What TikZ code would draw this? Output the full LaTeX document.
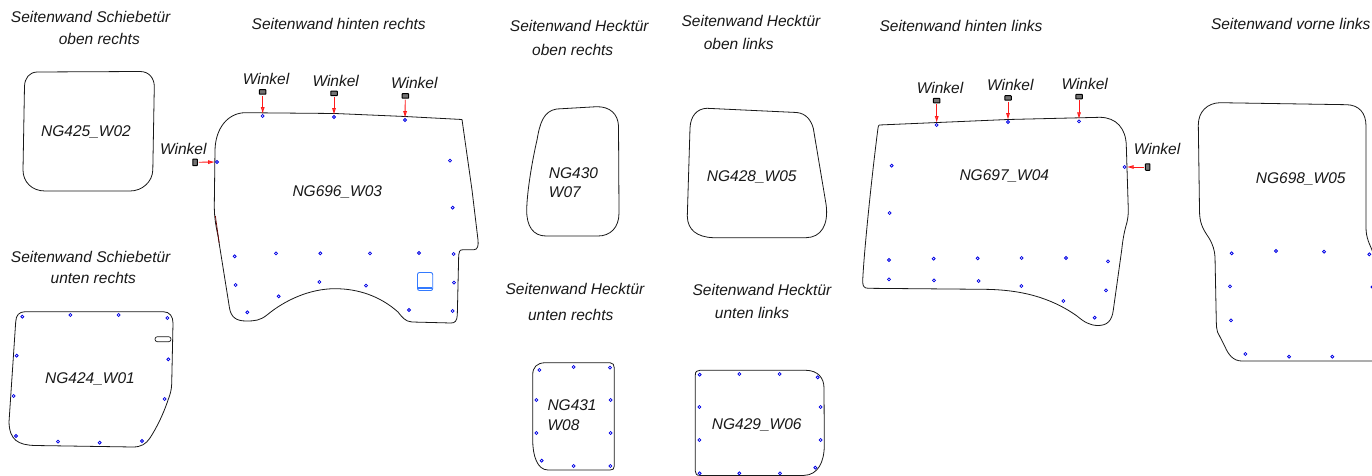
\documentclass[tikz,border=0pt]{standalone}
\usepackage{fontspec}
\setmainfont{Liberation Sans}
\usetikzlibrary{arrows.meta}
\tikzset{
  panel/.style={draw=black!90,line width=0.8pt,line join=round},
  lbl/.style={inner sep=0pt,font=\fontsize{15.5}{18}\selectfont\itshape,text=black!90},
  lblleft/.style={lbl,anchor=west},
  hole/.style={circle,draw=blue!90!black,line width=0.75pt,minimum size=3pt,inner sep=0pt},
  bracket/.style={draw=black,line width=1pt,fill=black!55,minimum width=6.5pt,minimum height=4.5pt,inner sep=0pt,rounded corners=0.5pt},
  bracketv/.style={bracket,minimum width=4.5pt,minimum height=6.5pt},
  pointer/.style={draw=red!90,line width=0.9pt,-{Latex[length=7pt,width=4pt,fill=red!55]},shorten <=1pt,shorten >=0pt},
  slot/.style={draw=black!90,line width=0.7pt,rounded corners=2.4pt},
  tab/.style={draw=blue!65!cyan!80,line width=0.9pt,rounded corners=2pt}
}
\begin{document}
\begin{tikzpicture}[x=1pt,y=-1pt]
\useasboundingbox (0,0) rectangle (1372,476);
\fill[white] (0,0) rectangle (1372,476);
\clip (0,0) rectangle (1372,476);

% ---------- outlines
\draw[panel] (37,72) -- (140,71.5) .. controls (149,71.5) and (154,78) .. (154.3,86) -- (152.8,170)
  .. controls (152.5,182) and (142,191) .. (130,191) -- (45,191) .. controls (32,191) and (23,182) .. (23,170)
  -- (24.5,86) .. controls (25,78) and (29,72.5) .. (37,72) -- cycle;

\draw[panel] (245,112.7) -- (335,113.5) -- (405,116.5) -- (462,119.5) -- (472,190) -- (478,240)
  .. controls (478.5,245) and (478,249.7) .. (474,249.7) -- (463,249.7) .. controls (459.5,249.7) and (458.8,252) .. (458.7,255)
  -- (457.3,315) .. controls (457,321) and (455,323) .. (451,323) -- (412,322)
  .. controls (405,321.5) and (402,317) .. (398,312) .. controls (380,296) and (358,288.7) .. (335,288.7)
  .. controls (310,288.7) and (285,300) .. (267,315) .. controls (260,320.5) and (255,321) .. (246,321)
  .. controls (236,321) and (231,317) .. (229.5,308) -- (218,236)
  .. controls (215,222) and (214.3,215) .. (214.3,205) -- (215,150) .. controls (215.5,128) and (228,113) .. (245,112.7) -- cycle;

\draw[panel] (25,311.7) -- (163.3,311.7) .. controls (170,311.7) and (173,317) .. (173,323) -- (171.7,384)
  .. controls (171.5,390) and (170,395) .. (168.3,399.3) .. controls (163,415) and (157,427) .. (150,438)
  .. controls (146,444) and (141,447) .. (133,447) -- (35,445.5) .. controls (18,445) and (9.5,440) .. (9,422)
  -- (15.7,322) .. controls (16,315) and (19,312) .. (25,311.7) -- cycle;
\node[slot,minimum width=16pt,minimum height=5pt,inner sep=0pt] (slot) at (163,339.2) {};

\draw[panel] (556.7,109) -- (596.7,106.7) .. controls (610,106.5) and (618,114) .. (618.5,126) -- (619,213)
  .. controls (619,228) and (610,236) .. (598,236) -- (546,236) .. controls (533,236) and (526.5,226) .. (526.7,210)
  .. controls (527,190) and (533,157) .. (537,140) .. controls (540,122) and (544,111) .. (556.7,109) -- cycle;

\draw[panel] (707,108.3) -- (796.7,112.5) .. controls (806,113.5) and (811,120) .. (813.3,128.3) -- (826,204)
  .. controls (829,225) and (821,237.5) .. (806,237.7) -- (713,237.7) .. controls (697,237) and (687.5,230) .. (687.3,216)
  -- (690,128) .. controls (690.5,116) and (697,108.5) .. (707,108.3) -- cycle;

\draw[panel] (545,362.7) -- (610,362.7) .. controls (613,362.7) and (614.3,365) .. (614.3,368) -- (614.3,466)
  .. controls (614.3,469) and (613,470) .. (610,470) -- (548,470) .. controls (537,470) and (532.7,455) .. (532.7,440)
  -- (532.7,375) .. controls (532.7,367) and (537,363) .. (545,362.7) -- cycle;

\draw[panel] (700,370.3) -- (806,370.3) .. controls (818,370.5) and (824,378) .. (824,388) -- (824.3,445)
  .. controls (824.3,462) and (818,475) .. (804,475.4) -- (700,475.4) .. controls (696.5,475.4) and (695.3,474) .. (695.3,471)
  -- (695.3,375) .. controls (695.3,371.5) and (697,370.3) .. (700,370.3) -- cycle;

\draw[panel] (879.3,125) -- (1008,119.5) -- (1100,117.3) .. controls (1116,117.5) and (1126,128) .. (1126.3,146)
  -- (1128.3,210) .. controls (1128.3,216) and (1127.5,220) .. (1126.7,223.3) .. controls (1124,232) and (1122.5,242) .. (1121.7,250)
  -- (1113.3,310) .. controls (1112,321) and (1107,325.5) .. (1098,325.5) .. controls (1090,325.5) and (1084,322) .. (1077,316)
  .. controls (1050,297) and (1020,289.5) .. (983,289.3) -- (868.3,288.3) .. controls (864,288.3) and (862.7,286) .. (862.7,281.7)
  .. controls (863,265) and (870,190) .. (878,128) .. controls (878.3,126) and (878.7,125.3) .. (879.3,125) -- cycle;

\draw[panel] (1220,102.7) -- (1346.7,104.7) .. controls (1359,105) and (1366,113) .. (1366,126) -- (1366,228)
  .. controls (1366,238) and (1370,245) .. (1372,250) -- (1380,280) -- (1380,361) -- (1241.7,361)
  .. controls (1233,361) and (1228,354) .. (1225,346.7) -- (1217.5,332) .. controls (1216.5,329) and (1216.5,326) .. (1216.3,322)
  -- (1215,256.7) .. controls (1214.5,250) and (1213,245) .. (1209,238) .. controls (1202,228) and (1199.5,222) .. (1199.5,210)
  -- (1198.3,125) .. controls (1198.3,112) and (1207,103) .. (1220,102.7) -- cycle;

% small dark-red stretch on the left edge of NG696
\draw[draw=red!40!black,line width=0.7pt] (215.4,216) -- (219.2,243);

% blue tab
\draw[tab] (417.5,272.5) rectangle (432.7,290.5);
\draw[draw=blue!65!cyan!80,line width=1.2pt] (418,288) -- (432.2,288);

% ---------- holes
\foreach \p [count=\i] in {(234.7,256.3),(276,253.3),(320.3,253.3),(370,253.3),(419,253),(453.7,254),(235.7,285),(319.3,282),(366,285.7),(278.7,296.3),(454,282.7),(247.3,312.3),(409,310),(452.7,311),(450,160.7),(452.7,207.7)}
  \node[hole] (a\i) at \p {};
\foreach \p [count=\i] in {(22.3,316.7),(70.3,315),(118.7,315),(167.3,318),(16.7,355.7),(168.3,359.3),(13.7,396),(164.7,399),(16,436),(58,441.7),(99.7,442.7),(142,441)}
  \node[hole] (b\i) at \p {};
\foreach \p [count=\i] in {(539.3,370),(573.7,367),(610,367.7),(536.3,400),(610.7,400),(536.3,433),(610.7,433),(541.7,460.7),(573.7,466),(610.3,466)}
  \node[hole] (c\i) at \p {};
\foreach \p [count=\i] in {(699.7,374.7),(739.3,374),(779.7,374),(817.7,377.3),(699.3,407),(820.7,407),(699.3,440),(820.7,440),(815.3,467.7),(699.7,473.3),(739.3,473.3),(780,473.3)}
  \node[hole] (d\i) at \p {};
\foreach \p [count=\i] in {(891.7,165.7),(889.7,213),(889,260),(933.7,258.7),(977.7,258.3),(1021.7,258),(1066,258),(1108,261.3),(889,279.3),(934,280.3),(978.7,281),(1021.3,286),(1063.3,301),(1106,290.3),(1094.7,317.7)}
  \node[hole] (e\i) at \p {};
\foreach \p [count=\i] in {(1231.7,253.3),(1276,251),(1324,251.7),(1369.3,254.3),(1230,286.3),(1231,320.3),(1245.3,354),(1289,356.7),(1332.3,356.7),(1372.5,287)}
  \node[hole] (f\i) at \p {};

% ---------- brackets and arrows, NG696
\node[hole] (h1) at (262.7,116) {};
\node[hole] (h2) at (334,117) {};
\node[hole] (h3) at (405,120) {};
\node[hole] (h4) at (217,162) {};
\node[bracket] (w1) at (262.7,92) {};
\node[bracket] (w2) at (334,93.3) {};
\node[bracket] (w3) at (405.3,96) {};
\node[bracketv] (w4) at (195,162.3) {};
\draw[pointer] (w1) -- (h1);
\draw[pointer] (w2) -- (h2);
\draw[pointer] (w3) -- (h3);
\draw[pointer] (w4) -- (h4);

% ---------- brackets and arrows, NG697
\node[hole] (k1) at (936.7,125) {};
\node[hole] (k2) at (1008,122) {};
\node[hole] (k3) at (1079,121.3) {};
\node[hole] (k4) at (1124.7,167) {};
\node[bracket] (v1) at (936.7,100.7) {};
\node[bracket] (v2) at (1008,98) {};
\node[bracket] (v3) at (1079,96.7) {};
\node[bracketv] (v4) at (1147.7,167) {};
\draw[pointer] (v1) -- (k1);
\draw[pointer] (v2) -- (k2);
\draw[pointer] (v3) -- (k3);
\draw[pointer] (v4) -- (k4);

% ---------- texts
\node[lbl] (t1) at (90.7,17.3) {Seitenwand Schiebetür};
\node[lbl] (t2) at (99.3,38.7) {oben rechts};
\node[lbl] (t3) at (338.7,23.7) {Seitenwand hinten rechts};
\node[lbl] (t4) at (90.7,257.3) {Seitenwand Schiebetür};
\node[lbl] (t5) at (93.3,277.7) {unten rechts};
\node[lbl] (t6) at (579.3,26) {Seitenwand Hecktür};
\node[lbl] (t7) at (572.7,50) {oben rechts};
\node[lbl] (t8) at (751,20.7) {Seitenwand Hecktür};
\node[lbl] (t9) at (738.7,44.3) {oben links};
\node[lbl] (t10) at (575,289.3) {Seitenwand Hecktür};
\node[lbl] (t11) at (570.7,315.3) {unten rechts};
\node[lbl] (t12) at (762,290) {Seitenwand Hecktür};
\node[lbl] (t13) at (752,312.7) {unten links};
\node[lbl] (t14) at (961,26) {Seitenwand hinten links};
\node[lbl] (t15) at (1290.7,24) {Seitenwand vorne links};

\node[lbl] (n1) at (86,131.7) {NG425\_W02};
\node[lbl] (n2) at (337.3,191.7) {NG696\_W03};
\node[lbl] (n3) at (90,379.3) {NG424\_W01};
\node[lblleft] (n4) at (548.7,173.3) {NG430};
\node[lblleft] (n5) at (548.7,192.3) {W07};
\node[lbl] (n6) at (751.7,176.7) {NG428\_W05};
\node[lblleft] (n7) at (547.3,405.3) {NG431};
\node[lblleft] (n8) at (547.3,425.3) {W08};
\node[lbl] (n9) at (756.7,425.3) {NG429\_W06};
\node[lbl] (n10) at (1004.3,176) {NG697\_W04};
\node[lbl] (n11) at (1300.7,178.7) {NG698\_W05};

\node[lbl] (x1) at (266,79) {Winkel};
\node[lbl] (x2) at (335.7,81.3) {Winkel};
\node[lbl] (x3) at (414.3,83) {Winkel};
\node[lbl] (x4) at (183.3,149) {Winkel};
\node[lbl] (x5) at (940,88.3) {Winkel};
\node[lbl] (x6) at (1010.3,85.3) {Winkel};
\node[lbl] (x7) at (1084.7,84.3) {Winkel};
\node[lbl] (x8) at (1157,148.5) {Winkel};
\end{tikzpicture}
\end{document}
